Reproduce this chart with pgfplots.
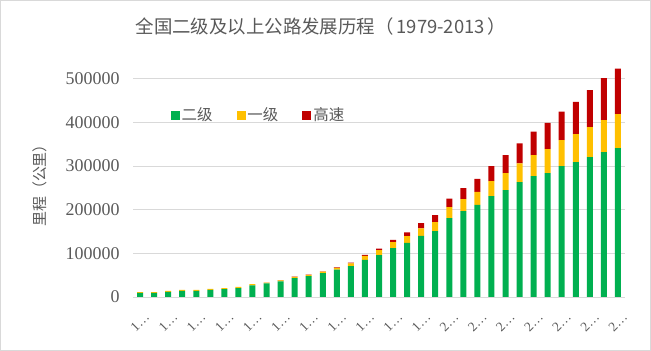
\documentclass[border=0pt]{standalone}
\usepackage{pgfplots}
\pgfplotsset{compat=1.18}
\usepackage{pgfplotstable}
\usepackage{fontspec}
\setmainfont{Liberation Serif}
\newfontfamily\cjk{Noto Sans CJK SC}
\definecolor{cGreen}{HTML}{00B050}
\definecolor{cYellow}{HTML}{FFC000}
\definecolor{cRed}{HTML}{C00000}
\definecolor{cText}{HTML}{595959}
\definecolor{cGrid}{HTML}{D9D9D9}
\pgfplotstableread{
x year g y r
0 1979 9200 2000 0
1 1980 9500 1800 0
2 1981 11500 2500 0
3 1982 14000 2300 0
4 1983 14200 2300 0
5 1984 16500 2300 0
6 1985 18200 2400 0
7 1986 20500 2800 0
8 1987 26500 2800 0
9 1988 31000 2000 147
10 1989 36000 2300 271
11 1990 43376 2617 522
12 1991 47700 2900 574
13 1992 54700 3600 652
14 1993 62600 4000 1145
15 1994 71000 6300 1603
16 1995 84910 9580 2141
17 1996 96000 11500 3422
18 1997 112000 14000 4771
19 1998 124000 15500 8733
20 1999 140000 17500 11605
21 2000 151000 20600 16314
22 2001 181000 25200 19437
23 2002 197000 27500 25130
24 2003 211000 29800 29745
25 2004 231000 34400 34288
26 2005 245000 38900 41005
27 2006 263000 43500 45339
28 2007 277000 48000 53913
29 2008 284000 55000 60302
30 2009 300000 59500 65055
31 2010 309000 64100 74113
32 2011 320600 68700 84946
33 2012 332000 73300 96200
34 2013 341000 77900 104438
}\data
\begin{document}
\begin{tikzpicture}
\useasboundingbox (0,0) rectangle (651bp,351bp);
\draw[cGrid, line width=1bp] (0.5bp,0.5bp) rectangle (650.5bp,350.5bp);
\begin{axis}[
  at={(133bp,54bp)}, anchor=south west,
  scale only axis, width=492bp, height=240bp,
  xmin=-0.5, xmax=34.5, ymin=0, ymax=550000,
  ybar stacked, bar width=6bp,
  ytick={0,100000,200000,300000,400000,500000},
  scaled y ticks=false,
  yticklabel style={/pgf/number format/fixed, /pgf/number format/1000 sep={}, font=\fontsize{18}{20}\selectfont, text=cText, xshift=-10bp},
  /pgf/number format/assume math mode=true,
  xtick={0,2,...,34},
  xticklabels={1…,1…,1…,1…,1…,1…,1…,1…,1…,1…,1…,2…,2…,2…,2…,2…,2…,2…},
  xticklabel style={font=\fontsize{13.5}{14}\selectfont, text=cText, inner sep=0pt, yshift=-25bp, rotate=45, anchor=center},
  ymajorgrids, grid style={cGrid, line width=0.8bp},
  axis lines*=left,
  x axis line style={cGrid, line width=0.8bp},
  y axis line style={draw=none},
  tick style={draw=none},
  legend style={draw=none, fill=none, at={(0.07,0.758)}, anchor=west, legend columns=3,
    font=\cjk\fontsize{15.5}{17}\selectfont, text=cText,
    /tikz/every even column/.append style={column sep=22bp}},
  legend image code/.code={\fill[#1] (0bp,-4.5bp) rectangle (9bp,4.5bp);},
]
\addplot[fill=cGreen, draw=none] table[x=x, y=g] {\data};
\addplot[fill=cYellow, draw=none] table[x=x, y=y] {\data};
\addplot[fill=cRed, draw=none] table[x=x, y=r] {\data};
\legend{二级,一级,高速}
\end{axis}
\node[text=cText, font=\cjk\fontsize{18.5}{21}\selectfont] at (321bp,325bp) {全国二级及以上公路发展历程（\,1979-2013\,）};
\node[text=cText, font=\cjk\fontsize{15}{17}\selectfont, rotate=90] at (40bp,169bp) {里程（公里）};
\end{tikzpicture}
\end{document}
